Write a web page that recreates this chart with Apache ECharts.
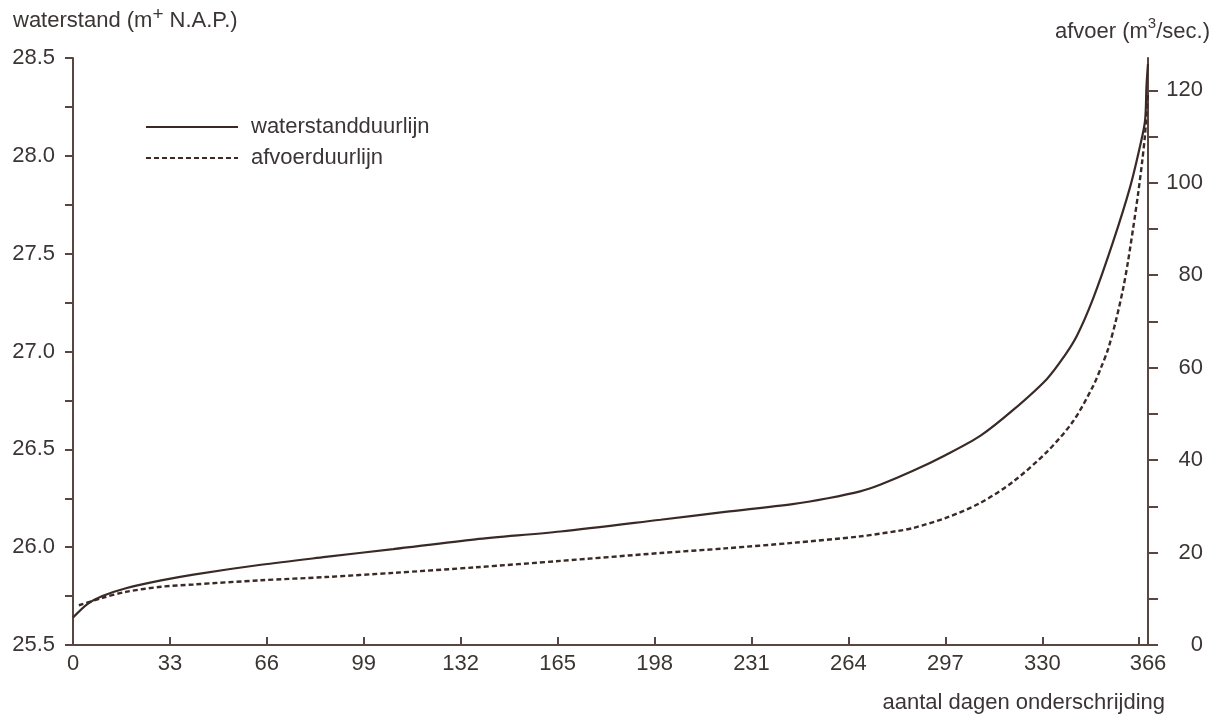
<!DOCTYPE html>
<html>
<head>
<meta charset="utf-8">
<script src="https://cdn.jsdelivr.net/npm/echarts@6/dist/echarts.min.js"></script>
<style>
  html, body { margin: 0; padding: 0; background: #ffffff; }
  #chart { width: 1222px; height: 718px; }
</style>
</head>
<body>
<div id="chart"></div>
<script>
// Axis ticks and labels
const dayTicks   = [0, 33, 66, 99, 132, 165, 198, 231, 264, 297, 330, 363];
const dayLabels  = [0, 33, 66, 99, 132, 165, 198, 231, 264, 297, 330, 366];
const levelTicks = [25.5, 25.75, 26.0, 26.25, 26.5, 26.75, 27.0, 27.25, 27.5, 27.75, 28.0, 28.25, 28.5];
const levelLabels = [25.5, 26.0, 26.5, 27.0, 27.5, 28.0, 28.5];
const flowTicks  = [0, 10, 20, 30, 40, 50, 60, 70, 80, 90, 100, 110, 120];
const flowLabels = [0, 20, 40, 60, 80, 100, 120];

// waterstandduurlijn: water level (m + N.A.P.) by number of days not exceeded
const levelDays   = [0, 5, 10, 18, 30, 41, 64, 86, 109, 137, 166, 200, 222, 245, 257, 268, 275, 286, 297, 309, 320, 331.6, 337.7, 341.8, 347.3, 354.1, 359.9, 363.3, 365, 365.5, 366];
const levelValues = [25.64, 25.71, 25.75, 25.79, 25.83, 25.86, 25.91, 25.95, 25.99, 26.04, 26.08, 26.14, 26.18, 26.22, 26.25, 26.285, 26.32, 26.39, 26.47, 26.57, 26.70, 26.86, 26.98, 27.08, 27.27, 27.56, 27.84, 28.05, 28.18, 28.36, 28.47];

// afvoerduurlijn: discharge (m3/sec.) by number of days not exceeded
const flowDays   = [2, 10, 18, 30, 41, 64, 86, 109, 137, 166, 200, 222, 245, 268, 281, 286, 297.6, 308.8, 320, 331.6, 340.5, 347.3, 350, 352.4, 355, 357.5, 359.2, 360.9, 362.6, 364, 365, 366];
const flowValues = [8.6, 10.2, 11.5, 12.6, 13.1, 14.0, 14.7, 15.6, 16.8, 18.2, 19.9, 20.9, 22.1, 23.5, 24.7, 25.3, 27.6, 30.7, 35.3, 41.8, 48.4, 56, 60, 64, 70, 77, 83, 90, 97.5, 104.5, 110.5, 119.5];

const FONT = 'Liberation Sans';
const SIZE = 22;
const TEXT = '#3b3535';
const AXIS = '#5a4641';
const INK  = '#3a2a27';

const pairs = (xs, ys) => xs.map((x, i) => [x, ys[i]]);

const chart = echarts.init(document.getElementById('chart'), null, { renderer: 'canvas' });

chart.setOption({
  animation: false,
  backgroundColor: '#ffffff',
  textStyle: { fontFamily: FONT, color: TEXT },
  grid: { left: 73, right: 74, top: 58, bottom: 73, containLabel: false },
  legend: {
    orient: 'vertical',
    left: 145,
    top: 116,
    padding: 0,
    itemWidth: 92,
    itemHeight: 22,
    itemGap: 9,
    data: ['waterstandduurlijn', 'afvoerduurlijn'],
    itemStyle: { opacity: 0 },
    textStyle: { fontFamily: FONT, fontSize: SIZE, color: TEXT, padding: [0, 0, 0, 8] }
  },
  xAxis: {
    type: 'value',
    min: 0,
    max: 366,
    axisLine: { show: true, lineStyle: { color: AXIS, width: 2 } },
    axisTick: { show: true, inside: true, length: 8, customValues: dayTicks, lineStyle: { color: AXIS, width: 2 } },
    axisLabel: { customValues: dayLabels, margin: 8, fontFamily: FONT, fontSize: SIZE, color: TEXT },
    splitLine: { show: false }
  },
  yAxis: [
    {
      type: 'value',
      position: 'left',
      min: 25.5,
      max: 28.5,
      axisLine: { show: true, lineStyle: { color: AXIS, width: 2 } },
      axisTick: { show: true, inside: false, length: 8, customValues: levelTicks, lineStyle: { color: AXIS, width: 2 } },
      axisLabel: { customValues: levelLabels, margin: 18, fontFamily: FONT, fontSize: SIZE, color: TEXT,
                   formatter: v => v.toFixed(1) },
      splitLine: { show: false }
    },
    {
      type: 'value',
      position: 'right',
      min: 0,
      max: 127,
      axisLine: { show: true, lineStyle: { color: AXIS, width: 2 } },
      axisTick: { show: true, inside: false, length: 10, customValues: flowTicks, lineStyle: { color: AXIS, width: 2 } },
      axisLabel: { customValues: flowLabels, margin: 55, align: 'right', fontFamily: FONT, fontSize: SIZE, color: TEXT },
      splitLine: { show: false }
    }
  ],
  series: [
    {
      name: 'waterstandduurlijn',
      type: 'line',
      yAxisIndex: 0,
      data: pairs(levelDays, levelValues),
      showSymbol: false,
      symbol: 'none',
      smooth: 0.3,
      color: INK,
      lineStyle: { color: INK, width: 2.2, type: 'solid' }
    },
    {
      name: 'afvoerduurlijn',
      type: 'line',
      yAxisIndex: 1,
      data: pairs(flowDays, flowValues),
      showSymbol: false,
      symbol: 'none',
      smooth: 0.3,
      color: INK,
      lineStyle: { color: INK, width: 2.4, type: [5, 3] }
    }
  ],
  graphic: [
    {
      type: 'text',
      left: 13,
      top: 5,
      style: {
        text: '{a|waterstand (m}{s|+}{a| N.A.P.)}',
        rich: {
          a: { fontFamily: FONT, fontSize: SIZE, fill: TEXT, lineHeight: 27, verticalAlign: 'bottom' },
          s: { fontFamily: FONT, fontSize: 19, fill: TEXT, lineHeight: 17, verticalAlign: 'top' }
        }
      }
    },
    {
      type: 'text',
      right: 12,
      top: 16,
      style: {
        text: '{a|afvoer (m}{s|3}{a|/sec.)}',
        rich: {
          a: { fontFamily: FONT, fontSize: SIZE, fill: TEXT, lineHeight: 27, verticalAlign: 'bottom' },
          s: { fontFamily: FONT, fontSize: 15, fill: TEXT, lineHeight: 15, verticalAlign: 'top' }
        }
      }
    },
    {
      type: 'text',
      right: 57,
      top: 692,
      style: { text: 'aantal dagen onderschrijding', fontFamily: FONT, fontSize: SIZE, fill: TEXT }
    }
  ]
});
</script>
</body>
</html>
